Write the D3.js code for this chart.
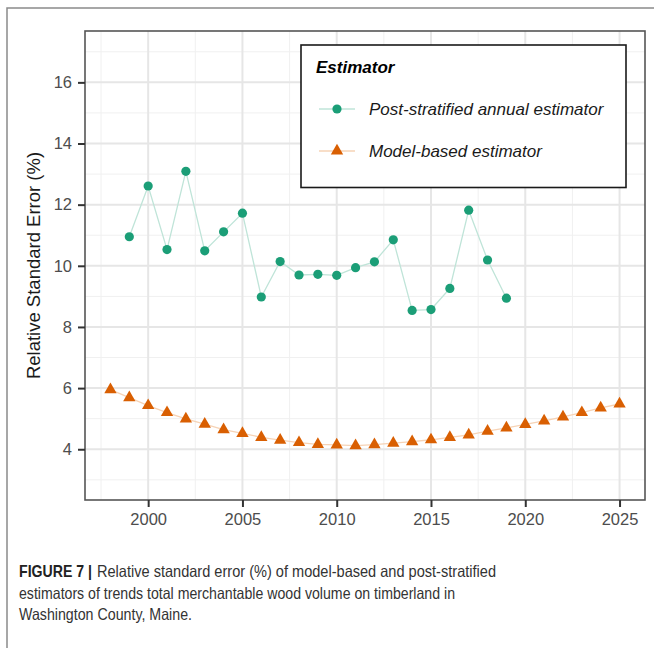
<!DOCTYPE html>
<html>
<head>
<meta charset="utf-8">
<script src="https://cdn.jsdelivr.net/npm/d3@7"></script>
<style>
  body { margin: 0; background: #fff; }
  svg { display: block; font-family: "Liberation Sans", Arial, sans-serif; }
</style>
</head>
<body>
<div id="chart"></div>
<script>
// data
const postYears = [1999, 2000, 2001, 2002, 2003, 2004, 2005, 2006, 2007, 2008, 2009, 2010,
  2011, 2012, 2013, 2014, 2015, 2016, 2017, 2018, 2019];
const postRSE = [10.95, 12.61, 10.53, 13.09, 10.49, 11.11, 11.72, 8.98, 10.14, 9.70, 9.72, 9.69,
  9.94, 10.13, 10.85, 8.54, 8.57, 9.26, 11.82, 10.19, 8.94];

const modelYears = [1998, 1999, 2000, 2001, 2002, 2003, 2004, 2005, 2006, 2007, 2008, 2009, 2010,
  2011, 2012, 2013, 2014, 2015, 2016, 2017, 2018, 2019, 2020, 2021, 2022, 2023, 2024, 2025];
const modelRSE = [5.95, 5.69, 5.43, 5.20, 4.99, 4.82, 4.64, 4.52, 4.39, 4.30, 4.22, 4.16, 4.14,
  4.12, 4.15, 4.20, 4.25, 4.31, 4.39, 4.47, 4.59, 4.70, 4.81, 4.93, 5.06, 5.20, 5.35, 5.48];

const xTicks = [2000, 2005, 2010, 2015, 2020, 2025];
const yTicks = [4, 6, 8, 10, 12, 14, 16];
const seriesNames = ["Post-stratified annual estimator", "Model-based estimator"];
const legendTitle = "Estimator";
const yTitle = "Relative Standard Error (%)";
const captionBold = "FIGURE 7 |";
const captionLines = [
  "Relative standard error (%) of model-based and post-stratified",
  "estimators of trends total merchantable wood volume on timberland in",
  "Washington County, Maine."
];

const W = 654, H = 648;
const panel = { left: 85, right: 645, top: 31, bottom: 500 };
const green = "#1b9e77", orange = "#d95f02";

const svg = d3.select("#chart").append("svg")
  .attr("width", W)
  .attr("height", H);

// outer figure frame (runs off the right / bottom edge)
svg.append("rect")
  .attr("x", 7).attr("y", 8)
  .attr("width", 700).attr("height", 700)
  .attr("fill", "none")
  .attr("stroke", "#8a8a8a")
  .attr("stroke-width", 1.5);

const x = d3.scaleLinear()
  .domain([1996.65, 2026.35])
  .range([panel.left, panel.right]);
const y = d3.scaleLinear()
  .domain([2.34, 17.68])
  .range([panel.bottom, panel.top]);

// grid
const grid = svg.append("g");
const xMinor = d3.range(1997.5, 2026, 5);
const yMinor = d3.range(3, 18, 2);
grid.selectAll(".xmin").data(xMinor).enter().append("line")
  .attr("x1", d => x(d)).attr("x2", d => x(d))
  .attr("y1", panel.top).attr("y2", panel.bottom)
  .attr("stroke", "#f0f0f0").attr("stroke-width", 1);
grid.selectAll(".ymin").data(yMinor).enter().append("line")
  .attr("y1", d => y(d)).attr("y2", d => y(d))
  .attr("x1", panel.left).attr("x2", panel.right)
  .attr("stroke", "#f0f0f0").attr("stroke-width", 1);
grid.selectAll(".xmaj").data(xTicks).enter().append("line")
  .attr("x1", d => x(d)).attr("x2", d => x(d))
  .attr("y1", panel.top).attr("y2", panel.bottom)
  .attr("stroke", "#e6e6e6").attr("stroke-width", 2);
grid.selectAll(".ymaj").data(yTicks).enter().append("line")
  .attr("y1", d => y(d)).attr("y2", d => y(d))
  .attr("x1", panel.left).attr("x2", panel.right)
  .attr("stroke", "#e6e6e6").attr("stroke-width", 2);

// series lines
const postData = postYears.map((yr, i) => ({ year: yr, v: postRSE[i] }));
const modelData = modelYears.map((yr, i) => ({ year: yr, v: modelRSE[i] }));
const line = d3.line().x(d => x(d.year)).y(d => y(d.v));

svg.append("path").datum(postData)
  .attr("d", line)
  .attr("fill", "none")
  .attr("stroke", "#bfe4d8")
  .attr("stroke-width", 1.3);
svg.append("path").datum(modelData)
  .attr("d", line)
  .attr("fill", "none")
  .attr("stroke", "#f6d3b6")
  .attr("stroke-width", 1.3);

// points
svg.append("g").selectAll("circle")
  .data(postData).enter().append("circle")
  .attr("cx", d => x(d.year))
  .attr("cy", d => y(d.v))
  .attr("r", 4.6)
  .attr("fill", green);

const tri = d3.symbol().type(d3.symbolTriangle).size(66);
svg.append("g").selectAll("path")
  .data(modelData).enter().append("path")
  .attr("d", tri)
  .attr("transform", d => `translate(${x(d.year)},${y(d.v)})`)
  .attr("fill", orange);

// panel border
svg.append("rect")
  .attr("x", panel.left).attr("y", panel.top)
  .attr("width", panel.right - panel.left)
  .attr("height", panel.bottom - panel.top)
  .attr("fill", "none")
  .attr("stroke", "#555")
  .attr("stroke-width", 1.6);

// axes
const xAxis = d3.axisBottom(x).tickValues(xTicks).tickFormat(d3.format("d"))
  .tickSize(7).tickPadding(6);
const yAxis = d3.axisLeft(y).tickValues(yTicks).tickSize(7).tickPadding(6);

const gx = svg.append("g")
  .attr("transform", `translate(0,${panel.bottom})`)
  .call(xAxis);
const gy = svg.append("g")
  .attr("transform", `translate(${panel.left},0)`)
  .call(yAxis);
[gx, gy].forEach(g => {
  g.select(".domain").remove();
  g.selectAll(".tick line").attr("stroke", "#333").attr("stroke-width", 2);
  g.selectAll(".tick text")
    .attr("fill", "#4d4d4d")
    .style("font-size", "16.5px")
    .style("font-family", "'Liberation Sans', Arial, sans-serif");
});

// y axis title
svg.append("text")
  .attr("transform", `translate(40,${(panel.top + panel.bottom) / 2}) rotate(-90)`)
  .attr("text-anchor", "middle")
  .style("font-size", "18.5px")
  .attr("fill", "#1a1a1a")
  .text(yTitle);

// legend
const lg = svg.append("g");
lg.append("rect")
  .attr("x", 301).attr("y", 45)
  .attr("width", 325).attr("height", 142.5)
  .attr("fill", "#fff")
  .attr("stroke", "#1a1a1a")
  .attr("stroke-width", 1.6);
lg.append("text")
  .attr("x", 316).attr("y", 73)
  .style("font-size", "17px")
  .style("font-weight", "bold")
  .style("font-style", "italic")
  .attr("fill", "#000")
  .text(legendTitle);

const keys = [
  { name: seriesNames[0], color: green, lineColor: "#bfe4d8", shape: "circle", cy: 109 },
  { name: seriesNames[1], color: orange, lineColor: "#f6d3b6", shape: "triangle", cy: 151 }
];
keys.forEach(k => {
  lg.append("line")
    .attr("x1", 319).attr("x2", 355)
    .attr("y1", k.cy).attr("y2", k.cy)
    .attr("stroke", k.lineColor).attr("stroke-width", 1.3);
  if (k.shape === "circle") {
    lg.append("circle").attr("cx", 337).attr("cy", k.cy).attr("r", 4.6).attr("fill", k.color);
  } else {
    lg.append("path").attr("d", tri).attr("transform", `translate(337,${k.cy})`).attr("fill", k.color);
  }
  lg.append("text")
    .attr("x", 369).attr("y", k.cy + 6)
    .style("font-size", "17px")
    .style("font-style", "italic")
    .attr("fill", "#1a1a1a")
    .text(k.name);
});

// caption
const cap = svg.append("g").style("font-size", "16.5px").attr("fill", "#333");
cap.append("text").attr("x", 19).attr("y", 577)
  .attr("textLength", 73).attr("lengthAdjust", "spacingAndGlyphs")
  .style("font-weight", "bold").attr("fill", "#222")
  .text(captionBold);
cap.append("text").attr("x", 97).attr("y", 577)
  .attr("textLength", 399).attr("lengthAdjust", "spacingAndGlyphs")
  .text(captionLines[0]);
cap.append("text").attr("x", 19).attr("y", 599)
  .attr("textLength", 436).attr("lengthAdjust", "spacingAndGlyphs")
  .text(captionLines[1]);
cap.append("text").attr("x", 19).attr("y", 620)
  .attr("textLength", 173).attr("lengthAdjust", "spacingAndGlyphs")
  .text(captionLines[2]);
</script>
</body>
</html>
